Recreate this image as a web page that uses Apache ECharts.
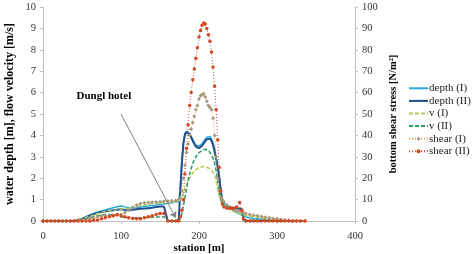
<!DOCTYPE html>
<html><head><meta charset="utf-8">
<script src="https://cdn.jsdelivr.net/npm/echarts@6/dist/echarts.min.js"></script>
<style>html,body{margin:0;padding:0;background:#fff}#c{width:473px;height:254px}</style>
</head><body><div id="c"></div>
<script>
var stations = [0,5,10,15,20,25,30,35,40,45,50,55,60,65,70,75,80,85,90,95,100,105,110,115,120,125,130,135,140,145,150,155,160,165,170,
  174,176,178,180,182,184,186,188,190,192,194,196,198,200,202,204,206,208,210,212,214,216,218,220,222,224,226,228,230,232,
  236,240,244,248,252,255,257,260,265,270,275,280,285,290,295,300,305,310,315,320,325,330,336];
var depthI = [0,0,0,0,0,0,0,0,0.02,0.06,0.12,0.2,0.28,0.35,0.42,0.47,0.52,0.57,0.62,0.67,0.7,0.66,0.62,0.61,0.62,0.65,0.68,0.7,0.72,0.75,0.78,0.8,0.82,0.85,0.88,
  0.9,1.6,2.8,3.7,4.1,4.2,4.18,4.1,3.95,3.8,3.65,3.55,3.5,3.5,3.55,3.62,3.72,3.82,3.92,3.97,3.95,3.85,3.65,3.35,3.0,2.6,2.1,1.5,1.0,0.85,
  0.72,0.6,0.5,0.4,0.32,0.27,0.24,0.2,0.15,0.12,0.1,0.08,0.06,0.05,0.03,0.02,0.01,0,0,0,0,0,0];
var depthII = [0,0,0,0,0,0,0,0,0,0.04,0.1,0.17,0.25,0.32,0.38,0.42,0.45,0.48,0.5,0.53,0.55,0.52,0.5,0.52,0.55,0.57,0.58,0.6,0.62,0.65,0.68,0.68,0,0,0,
  0.05,1.4,2.7,3.6,4.05,4.15,4.12,4.05,3.9,3.75,3.6,3.48,3.42,3.4,3.45,3.52,3.62,3.72,3.82,3.87,3.85,3.75,3.55,3.25,2.9,2.5,2.0,1.4,0.75,0.68,
  0.66,0.64,0.62,0.6,0.58,0.55,0.05,0,0,0,0,0,0,0,0,0,0,0,0,0,0,0,0];
var vI = [0,0,0,0,0,0,0,0,0,0.05,0.1,0.16,0.22,0.28,0.35,0.4,0.45,0.48,0.5,0.52,0.55,0.58,0.6,0.65,0.7,0.72,0.75,0.78,0.8,0.81,0.82,0.85,0.85,0.87,0.88,
  0.9,0.95,1.1,1.3,1.5,1.7,1.85,2.0,2.12,2.25,2.33,2.4,2.45,2.5,2.52,2.53,2.54,2.53,2.52,2.48,2.44,2.38,2.28,2.12,1.85,1.5,1.15,0.95,0.8,0.72,
  0.62,0.52,0.45,0.38,0.33,0.3,0.28,0.26,0.23,0.2,0.18,0.15,0.13,0.1,0.08,0.05,0.03,0.01,0,0,0,0,0];
var vII = [0,0,0,0,0,0,0,0,0,0.02,0.05,0.1,0.15,0.2,0.25,0.28,0.3,0.3,0.3,0.25,0.2,0.17,0.15,0.15,0.15,0.15,0.15,0.16,0.17,0.18,0.2,0.2,0,0,0,
  0,0.1,0.35,0.7,1.1,1.5,1.9,2.2,2.45,2.7,2.85,3.0,3.1,3.2,3.25,3.3,3.33,3.35,3.33,3.3,3.22,3.1,2.92,2.7,2.35,1.9,1.4,1.0,0.78,0.7,
  0.65,0.6,0.56,0.52,0.48,0.42,0.1,0.05,0.05,0.04,0.03,0.02,0.01,0,0,0,0,0,0,0,0,0,0];
var shearI = [0,0,0,0,0,0,0,0,0,0.3,0.5,0.8,1,1.5,2,2.3,2.5,2.5,2.5,2.8,3,4,5,6.3,7.5,8.2,8.5,8.7,8.8,8.9,9,9.2,9.4,9.5,9.6,
  10,11,14,20,26,32,36,40,43,46,49,52,54,57,58.5,59,59.5,58,56,54,53,52,48,40,30,20,14,11,10,9,
  7.5,6.5,5.5,5,4.5,4,3.7,3.5,3,2.7,2.4,2.1,1.8,1.5,1.2,1,0.8,0.5,0.3,0,0,0,0];
var shearII = [0,0,0,0,0,0,0,0,0,0,0,0,0,0.3,0.5,1,1.5,2,2.5,3,2.5,2,1.5,1.2,1,1,1.5,2,2.5,3,3.5,3.5,0,0,0,
  0,2,5,10,22,34,45,54,60,66,71,76,81,86,89,91.5,92.5,92,90,87,84,79,72,63,52,38,25,14,8,6.5,
  6,6,6,6.5,8.7,5,1,0,0,0,0,0,0,0,0,0,0,0,0,0,0,0,0];
var seriesNames = ['depth (I)','depth (II)','v (I)','v (II)','shear (I)','shear (II)'];
var leftTicks = [0,1,2,3,4,5,6,7,8,9,10];
var rightTicks = [0,10,20,30,40,50,60,70,80,90,100];
var xTicks = [0,100,200,300,400];
var annotationText = 'Dungl hotel';

function pairs(v){ return stations.map(function(s,i){ return [s, v[i]]; }); }

var font = 'Liberation Serif';
var chart = echarts.init(document.getElementById('c'));
chart.setOption({
  animation:false,
  textStyle:{fontFamily:font},
  grid:{left:43,right:118,top:7,bottom:33,containLabel:false,outerBoundsMode:'none'},
  legend:{
    orient:'vertical', left:408, top:82, padding:0, itemWidth:19, itemHeight:5, itemGap:0,
    textStyle:{fontFamily:font,fontSize:11,color:'#222',lineHeight:12.6,padding:[0,0,0,-4]},
    data:[
      {name:seriesNames[0],itemStyle:{opacity:0}},
      {name:seriesNames[1],itemStyle:{opacity:0}},
      {name:seriesNames[2],itemStyle:{opacity:0}},
      {name:seriesNames[3],itemStyle:{opacity:0}},
      {name:seriesNames[4]},
      {name:seriesNames[5]}
    ]
  },
  xAxis:{
    type:'value', min:xTicks[0], max:xTicks[xTicks.length-1], interval:100,
    name:'station [m]', nameLocation:'middle', nameGap:22, nameMoveOverlap:false,
    nameTextStyle:{fontFamily:font,fontWeight:'bold',fontSize:11,color:'#000'},
    axisLine:{lineStyle:{color:'#bfbfbf'}},
    axisTick:{show:true,length:3,lineStyle:{color:'#bfbfbf'}},
    axisLabel:{fontFamily:font,fontSize:10.5,color:'#333',margin:10},
    splitLine:{show:false}
  },
  yAxis:[{
    type:'value', min:leftTicks[0], max:leftTicks[leftTicks.length-1], interval:1,
    name:'water depth [m], flow velocity [m/s]', nameLocation:'middle', nameGap:27, nameRotate:90, nameMoveOverlap:false,
    nameTextStyle:{fontFamily:font,fontWeight:'bold',fontSize:12,color:'#000'},
    axisLine:{show:true,lineStyle:{color:'#bfbfbf'}},
    axisTick:{show:true,length:3,lineStyle:{color:'#bfbfbf'}},
    axisLabel:{fontFamily:font,fontSize:10.5,color:'#333',margin:7},
    splitLine:{show:false}
  },{
    type:'value', position:'right', min:rightTicks[0], max:rightTicks[rightTicks.length-1], interval:10,
    name:'bottom shear stress [N/m²]', nameLocation:'middle', nameGap:33, nameRotate:90, nameMoveOverlap:false,
    nameTextStyle:{fontFamily:font,fontWeight:'bold',fontSize:10.5,color:'#000'},
    axisLine:{show:true,lineStyle:{color:'#bfbfbf'}},
    axisTick:{show:true,length:3,lineStyle:{color:'#bfbfbf'}},
    axisLabel:{fontFamily:font,fontSize:10.5,color:'#333',margin:7},
    splitLine:{show:false}
  }],
  series:[
    {name:seriesNames[0],type:'line',yAxisIndex:0,data:pairs(depthI),symbol:'none',
     lineStyle:{color:'#2aaae2',width:1.5},itemStyle:{color:'#2aaae2'},
     markLine:{silent:true,symbol:['none','arrow'],symbolSize:6,label:{show:false},
       lineStyle:{color:'#7f7f7f',width:1,type:'solid'},
       data:[[{coord:[100,5.0]},{coord:[170,0.15]}]]},
     markPoint:{silent:true,symbol:'circle',symbolSize:0,
       label:{show:true,formatter:annotationText,fontFamily:font,fontWeight:'bold',fontSize:11,color:'#000'},
       data:[{coord:[78,5.85]}]}
    },
    {name:seriesNames[1],type:'line',yAxisIndex:0,data:pairs(depthII),symbol:'none',
     lineStyle:{color:'#1f4e8c',width:2},itemStyle:{color:'#1f4e8c'}},
    {name:seriesNames[2],type:'line',yAxisIndex:0,data:pairs(vI),symbol:'none',
     lineStyle:{color:'#b3c95a',width:1.5,type:[4,2]},itemStyle:{color:'#b3c95a'}},
    {name:seriesNames[3],type:'line',yAxisIndex:0,data:pairs(vII),symbol:'none',
     lineStyle:{color:'#2e9a64',width:1.5,type:[4,2]},itemStyle:{color:'#2e9a64'}},
    {name:seriesNames[4],type:'line',yAxisIndex:1,data:pairs(shearI),symbol:'diamond',symbolSize:4,
     lineStyle:{color:'#e8a060',width:1,type:[1,2]},itemStyle:{color:'#a8987a'}},
    {name:seriesNames[5],type:'line',yAxisIndex:1,data:pairs(shearII),symbol:'circle',symbolSize:3.5,
     lineStyle:{color:'#c0504d',width:1,type:[1,2]},itemStyle:{color:'#d4481e'}}
  ]
});
</script></body></html>
